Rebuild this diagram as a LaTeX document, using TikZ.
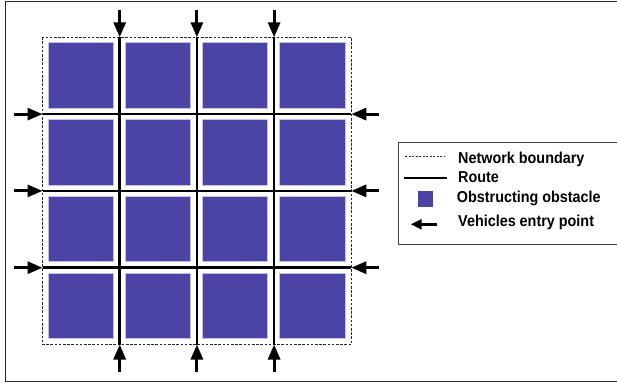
\documentclass[tikz,border=0pt]{standalone}
\usepackage{fontspec}
\setmainfont{Liberation Sans}
\newfontfamily\legendfont[FakeStretch=0.91]{Liberation Sans}
\usetikzlibrary{arrows.meta,math}

\definecolor{obstacle}{RGB}{75,68,164}
\definecolor{obstacleedge}{RGB}{196,190,236}

\tikzset{
  route/.style={line width=2.5pt, black},
  boundary/.style={dash pattern=on 2.6pt off 1.6pt, line width=0.7pt, black!85},
  obst/.style={fill=obstacle, draw=obstacleedge, line width=0.8pt},
  entry/.style={line width=3pt, -{Triangle[length=15pt,width=12pt]}},
  legendtext/.style={anchor=base west, inner sep=0pt,
    font=\legendfont\bfseries\fontsize{15.8}{18}\selectfont}
}

\begin{document}
\begin{tikzpicture}[x=1pt,y=-1pt]
  \tikzmath{\xo = 42.5; \yo = 37.3; \cw = 77.2; \ch = 76.8; \ob = 65.2; \ins = 5.6;}
  \useasboundingbox (0,0) rectangle (617,382);
  \draw[line width=1pt, black!85] (5,2) rectangle (640,381);

  % obstacles
  \foreach \i in {0,...,3}
    \foreach \j in {0,...,3}
      \draw[obst] ({\xo+\i*\cw+\ins},{\yo+\j*\ch+\ins}) rectangle ++(\ob,\ob);

  % network boundary
  \draw[boundary] (\xo,\yo) rectangle ({\xo+4*\cw},{\yo+4*\ch});

  % routes
  \foreach \k in {1,2,3} {
    \draw[route] ({\xo+\k*\cw},\yo) -- ({\xo+\k*\cw},{\yo+4*\ch});
    \draw[route] (\xo,{\yo+\k*\ch}) -- ({\xo+4*\cw},{\yo+\k*\ch});
  }

  % entry points
  \foreach \k in {1,2,3} {
    \draw[entry] ({\xo+\k*\cw},10) -- ({\xo+\k*\cw},\yo);
    \draw[entry] ({\xo+\k*\cw},372) -- ({\xo+\k*\cw},{\yo+4*\ch});
    \draw[entry] (14,{\yo+\k*\ch}) -- (\xo,{\yo+\k*\ch});
    \draw[entry] (379,{\yo+\k*\ch}) -- ({\xo+4*\cw},{\yo+\k*\ch});
  }

  % legend
  \draw[line width=0.9pt, black!75] (398.3,142.7) rectangle (640,244.3);
  \draw[boundary, dash pattern=on 2pt off 1.5pt, line width=0.6pt] (405,156) -- (445,156);
  \draw[line width=1.8pt] (404,178.3) -- (446.7,178.3);
  \fill[obstacle] (418.3,191) rectangle (432.7,206.7);
  \draw[line width=2.5pt, -{Triangle[length=11pt,width=10pt]}] (437,224.3) -- (410.7,224.3);
  \node[legendtext] (lgbound) at (458,163.3) {Network boundary};
  \node[legendtext] (lgroute) at (458,182.3) {Route};
  \node[legendtext] (lgobst) at (456.7,202.7) {Obstructing obstacle};
  \node[legendtext] (lgentry) at (458,226) {Vehicles entry point};
\end{tikzpicture}
\end{document}
